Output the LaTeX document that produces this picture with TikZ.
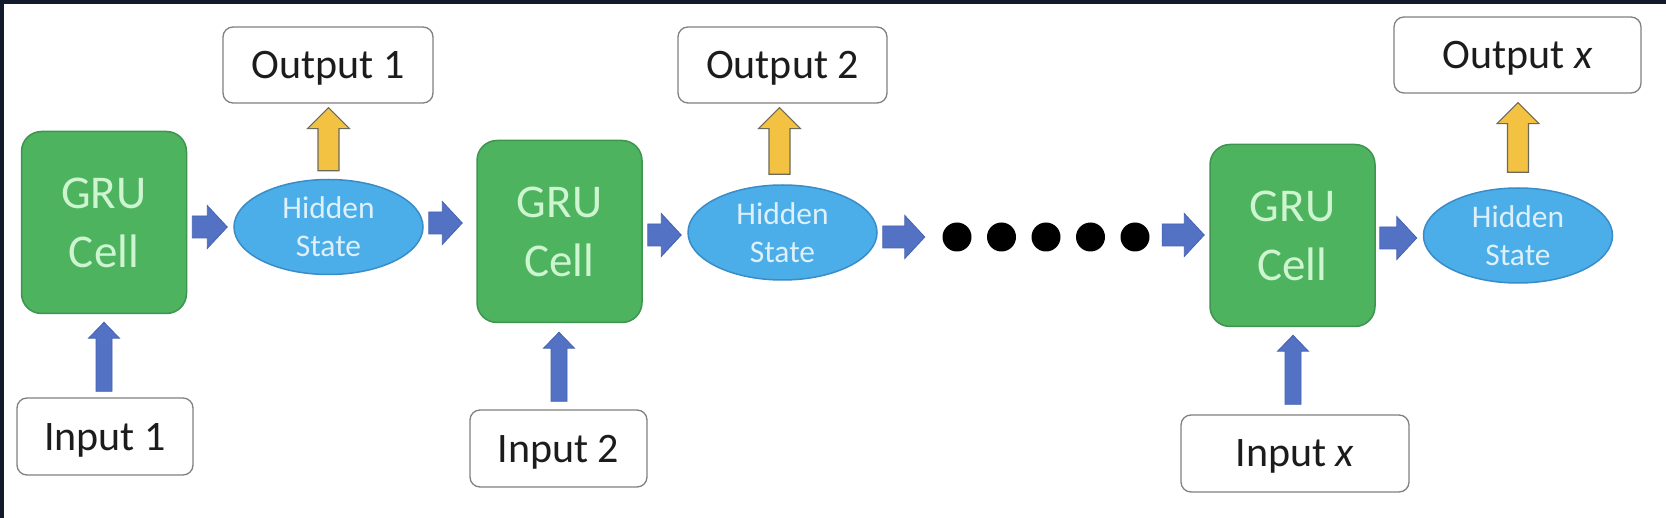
\documentclass[tikz,border=0pt]{standalone}
\usepackage{fontspec}
\setmainfont{Carlito}
\usetikzlibrary{shapes.geometric,calc}
\definecolor{navy}{HTML}{121A2C}
\definecolor{grufill}{HTML}{4DB35E}
\definecolor{gruedge}{HTML}{3F9450}
\definecolor{grutext}{HTML}{CDF5D0}
\definecolor{hsfill}{HTML}{4BAEE8}
\definecolor{hsedge}{HTML}{3A8CC8}
\definecolor{hstext}{HTML}{DDF0FB}
\definecolor{abfill}{HTML}{5472C4}
\definecolor{abedge}{HTML}{4562B2}
\definecolor{ayfill}{HTML}{F3C243}
\definecolor{ayedge}{HTML}{6E6A58}
\definecolor{boxedge}{HTML}{808080}
\definecolor{txt}{HTML}{1C1C1C}
\begin{document}
\begin{tikzpicture}[x=1pt,y=-1pt,
  grubox/.style={draw=gruedge, line width=1.5pt, fill=grufill, rounded corners=20pt,
    minimum width=165pt, minimum height=182pt, inner sep=0pt, align=center,
    text=grutext, font=\fontsize{47}{59}\selectfont},
  hstate/.style={ellipse, draw=hsedge, line width=1.5pt, fill=hsfill,
    minimum width=189pt, minimum height=95pt, inner sep=0pt,
    label={[align=center, text=hstext, font=\fontsize{31.5}{38}\selectfont]center:Hidden\\State}},
  iobox/.style={draw=boxedge, line width=1.3pt, fill=white, rounded corners=10pt,
    minimum height=76pt, inner sep=0pt, text=txt, text depth=0pt,
    font=\fontsize{42}{50}\selectfont},
  dot/.style={circle, fill=black, minimum size=29pt, inner sep=0pt},
  rarrow/.style n args={3}{to path={let \p1=(\tikztostart), \p2=(\tikztotarget) in
    (\x1,\y1+#1) -- (\x2-#3,\y1+#1) -- (\x2-#3,\y1+#2) -- (\x2,\y1)
    -- (\x2-#3,\y1-#2) -- (\x2-#3,\y1-#1) -- (\x1,\y1-#1) -- cycle}},
  uarrow/.style n args={3}{to path={let \p1=(\tikztostart), \p2=(\tikztotarget) in
    (\x1-#1,\y1) -- (\x1-#1,\y2-#3) -- (\x1-#2,\y2-#3) -- (\x1,\y2)
    -- (\x1+#2,\y2-#3) -- (\x1+#1,\y2-#3) -- (\x1+#1,\y1) -- cycle}},
  blueright/.style={fill=abfill, draw=abedge, line width=0.8pt, line join=miter, rarrow={11pt}{21.5pt}{20pt}},
  blueup/.style={fill=abfill, draw=abedge, line width=0.8pt, line join=miter, uarrow={8pt}{15.5pt}{16pt}},
  yellowup/.style={fill=ayfill, draw=ayedge, line width=1.1pt, line join=miter, uarrow={10.5pt}{21pt}{21pt}}
]
\useasboundingbox (0,0) rectangle (1666,518);
\fill[white] (0,0) rectangle (1666,518);
\fill[navy] (0,0) rectangle (1666,4);
\fill[navy] (0,0) rectangle (4,518);

% GRU cells
\node[grubox] (gru1) at (104,222.5) {GRU\\Cell};
\node[grubox] (gru2) at (559.5,231.5) {GRU\\Cell};
\node[grubox] (gru3) at (1292.5,235.5) {GRU\\Cell};

% hidden states
\node[hstate] (hs1) at (328.5,227) {};
\node[hstate] (hs2) at (782.5,232.5) {};
\node[hstate] (hs3) at (1518,235.5) {};

% outputs
\node[iobox, minimum width=210pt] (out1) at (328,65) {Output 1};
\node[iobox, minimum width=209pt] (out2) at (782.5,65) {Output 2};
\node[iobox, minimum width=247pt] (outx) at (1517.5,55) {Output \textit{x}};

% inputs
\node[iobox, minimum width=176pt, minimum height=77pt] (in1) at (105,436.5) {Input 1};
\node[iobox, minimum width=177pt, minimum height=77pt] (in2) at (558.5,448.5) {Input 2};
\node[iobox, minimum width=228pt, minimum height=77pt] (inx) at (1295,453.5) {Input \textit{x}};

% dots
\node[dot] (d1) at (957,237) {};
\node[dot] (d2) at (1001.5,237) {};
\node[dot] (d3) at (1046,237) {};
\node[dot] (d4) at (1090.5,237) {};
\node[dot] (d5) at (1135,237) {};

% horizontal block arrows
\draw[blueright] ($(gru1.east |- hs1.west)+(5,0)$) to ($(hs1.west)+(-6,0)$);
\draw[blueright] ($(hs1.east)+(5,-4)$) to ($(gru2.west)+(-14,0)$);
\draw[blueright] ($(gru2.east)+(5,3.5)$) to ($(hs2.west)+(-6,0)$);
\draw[blueright] ($(hs2.east)+(5,4.5)$) to ($(d1.west)+(-17.5,0)$);
\draw[blueright] ($(d5.east)+(12.5,-2)$) to ($(gru3.west)+(-5,0)$);
\draw[blueright] ($(gru3.east)+(4,2.5)$) to ($(hs3.west)+(-6,0)$);

% input arrows
\draw[blueup] ($(in1.north)+(-1,-6)$) to ($(gru1.south)+(0,8)$);
\draw[blueup] ($(in2.north)+(0.5,-8)$) to ($(gru2.south)+(0,9)$);
\draw[blueup] ($(inx.north)+(-2,-10)$) to ($(gru3.south)+(0,8)$);

% output arrows
\draw[yellowup] ($(hs1.north)+(0,-8)$) to ($(out1.south)+(0,4)$);
\draw[yellowup] ($(hs2.north)+(-3,-10)$) to ($(out2.south)+(0,4)$);
\draw[yellowup] ($(hs3.north)+(0,-15)$) to ($(outx.south)+(0,9)$);
\end{tikzpicture}
\end{document}
